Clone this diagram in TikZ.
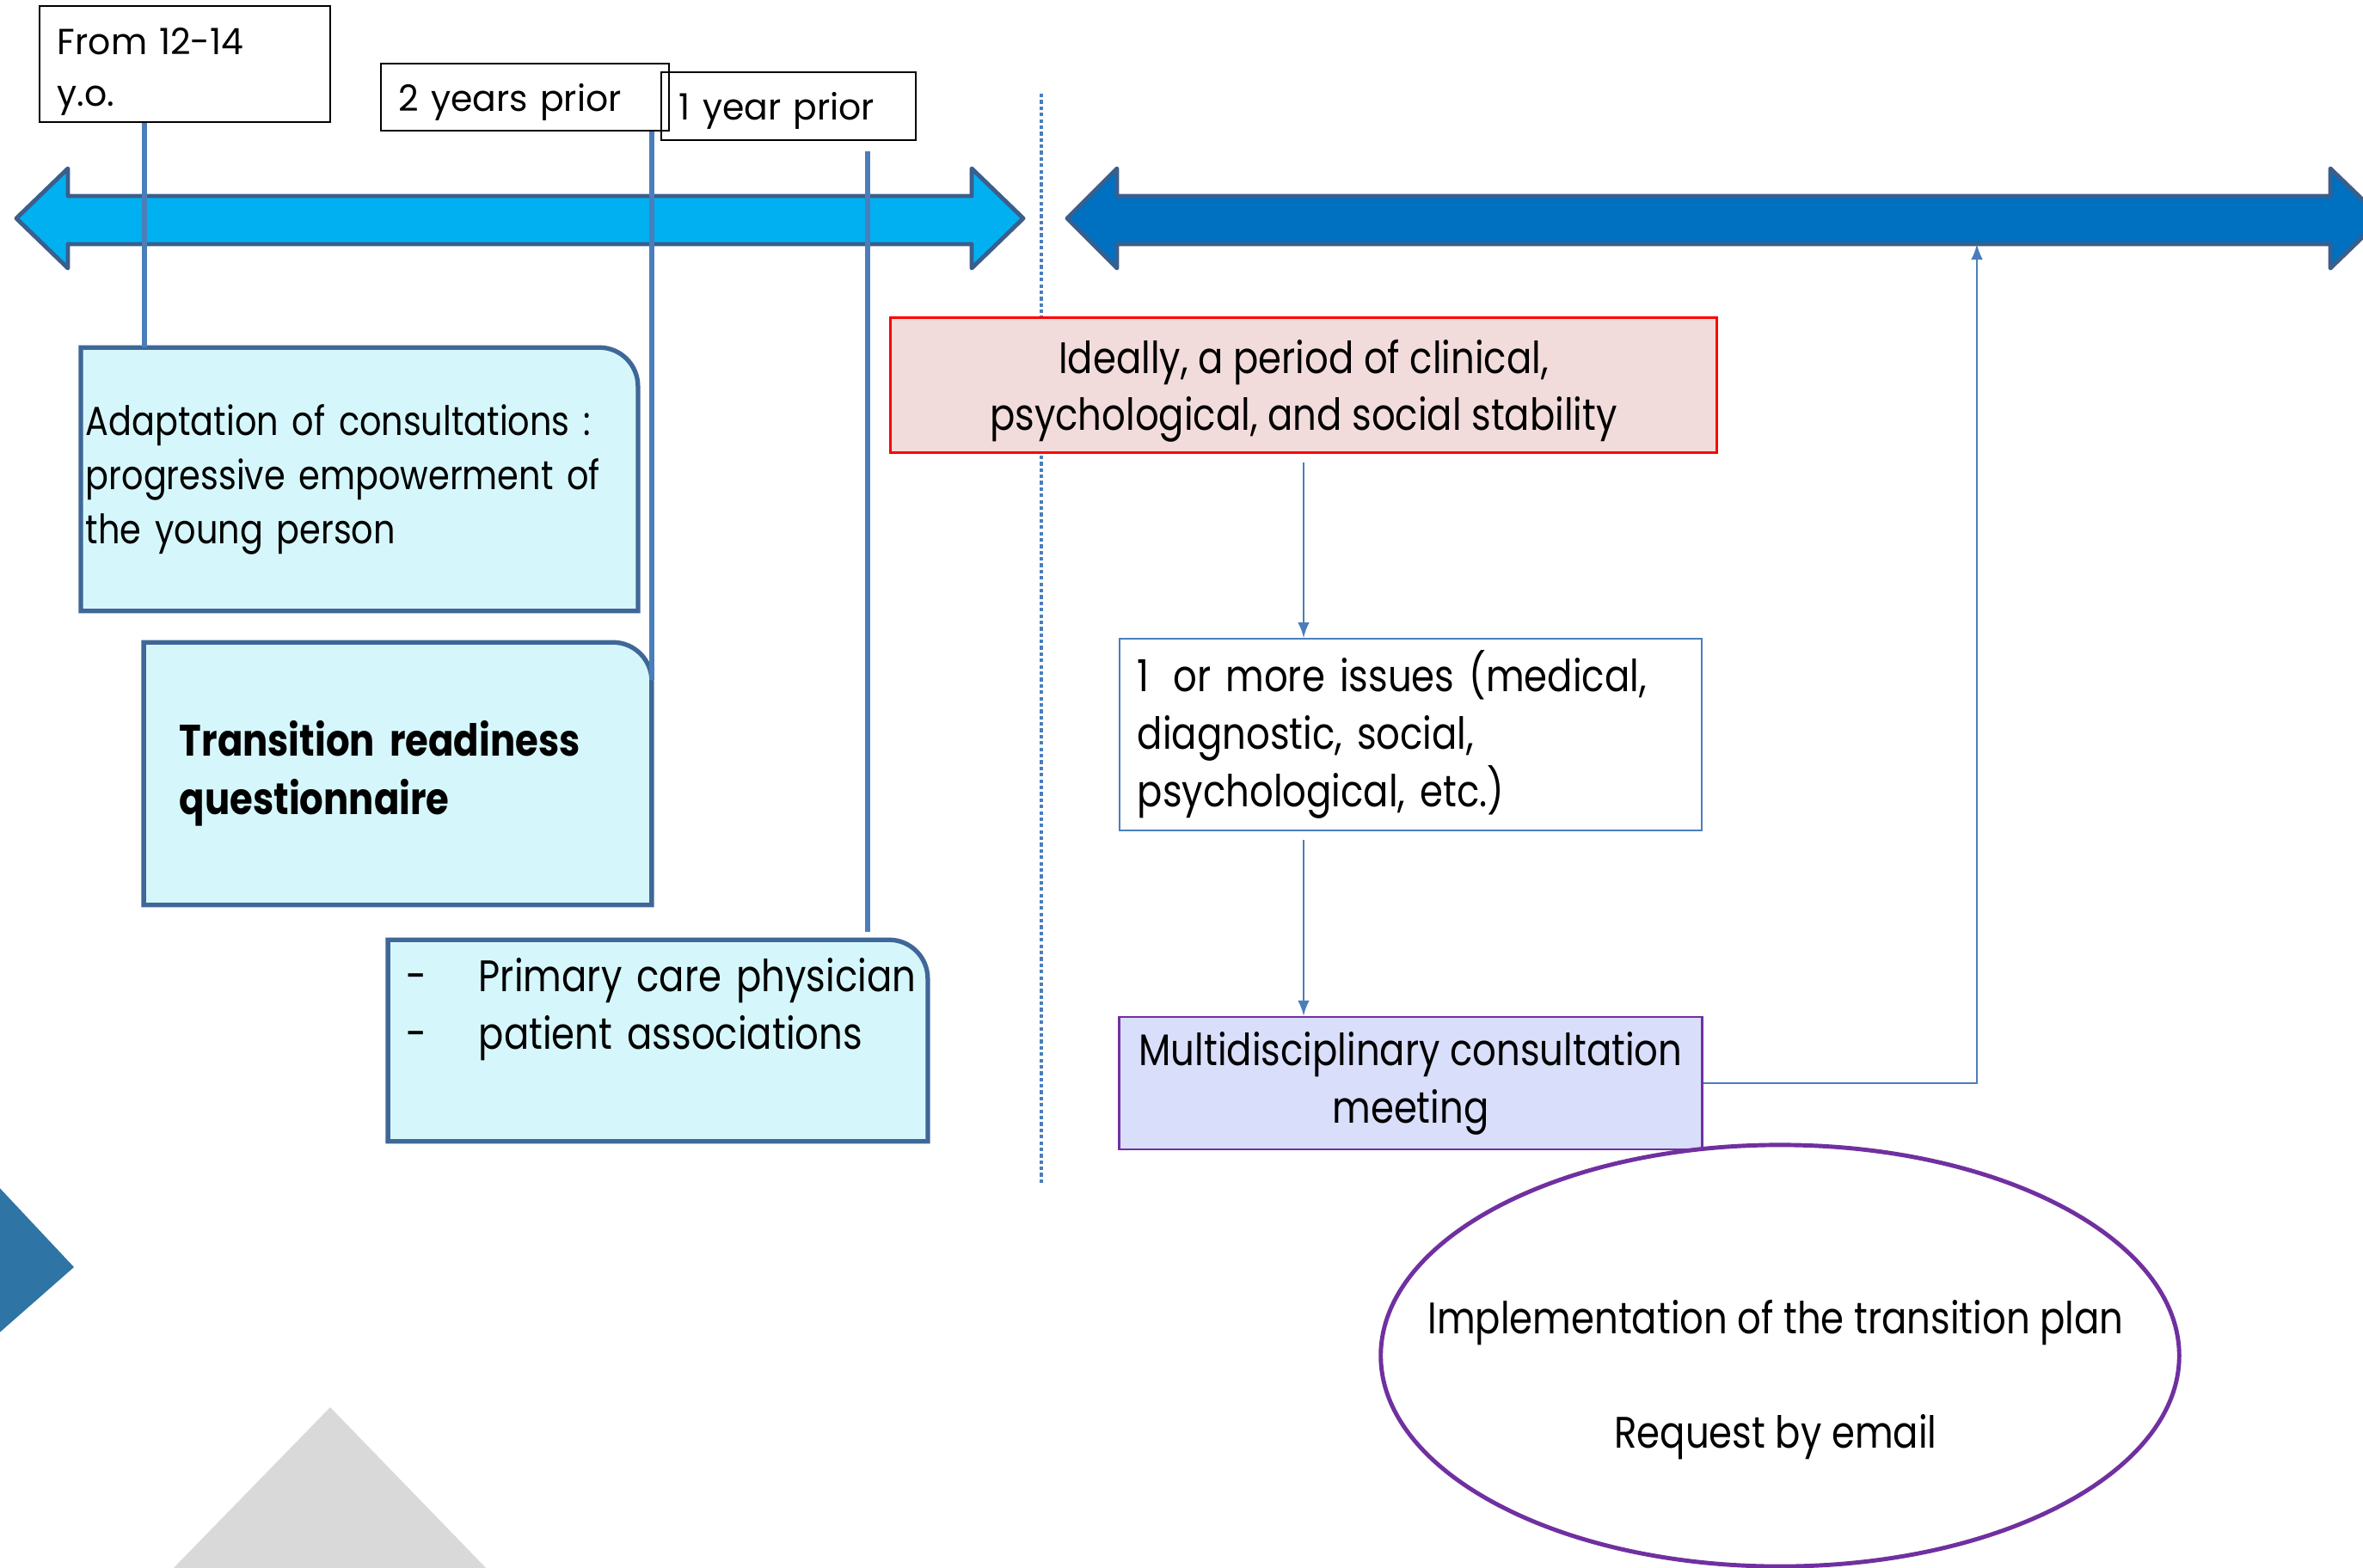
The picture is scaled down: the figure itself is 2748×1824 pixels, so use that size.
\documentclass[tikz,border=0pt]{standalone}
\usepackage{fontspec}
\setmainfont{Poppins}[FakeStretch=0.845]
\newfontfamily\labelfont{Poppins}[FakeStretch=0.97]
\usepackage{xcolor}
\usepackage{tikz}
\usetikzlibrary{shapes.geometric, arrows, backgrounds}

\definecolor{lightarrow}{HTML}{00B0F0}
\definecolor{darkarrow}{HTML}{0070C0}
\definecolor{arrowedge}{HTML}{3B5E8C}
\definecolor{markline}{HTML}{4A7EBB}
\definecolor{cyanfill}{HTML}{D5F7FB}
\definecolor{cyanedge}{HTML}{3F6797}
\definecolor{pinkfill}{HTML}{F2DCDB}
\definecolor{lavfill}{HTML}{D9DEFA}
\definecolor{purpleedge}{HTML}{7030A0}
\definecolor{decoblue}{HTML}{2E74A4}
\definecolor{decogray}{HTML}{D9D9D9}

% boite a coin arrondi en haut a droite
\newcommand{\tabbox}[1]{%
  \filldraw[tabshape] (#1.south west) -- (#1.north west)
    -- ([xshift=-0.45cm]#1.north east) arc[start angle=90, end angle=0, radius=0.45cm]
    -- (#1.south east) -- cycle;}

\begin{document}
\begin{tikzpicture}[x=0.01cm, y=-0.01cm,
    mainfont/.style={font=\fontsize{14.6}{19}\selectfont},
    labelbox/.style={draw=black, line width=0.6pt, inner xsep=0.21cm, inner ysep=0pt, align=left, font=\labelfont\fontsize{12}{17}\selectfont},
    tabtext/.style={inner xsep=0.21cm, align=left, mainfont},
    tabshape/.style={fill=cyanfill, draw=cyanedge, line width=1.5pt},
    marker/.style={markline, line width=1.7pt},
    conn/.style={->, >=latex, markline, line width=0.75pt},
    bigarrow/.style={draw=arrowedge, line width=1.4pt, line join=round}]
    \useasboundingbox (0,0) rectangle (2748,1824);
    \clip (0,0) rectangle (2748,1824);

    % Decor
    \fill[decoblue] (-5,1377) -- (86,1474) -- (-5,1554) -- cycle;
    \fill[decogray] (384,1637) -- (196,1830) -- (571,1830) -- cycle;

    % Fleches du temps
    \filldraw[bigarrow, fill=lightarrow] (19,254) -- (79,196) -- (79,228) -- (1130,228) -- (1130,196)
        -- (1190,254) -- (1130,312) -- (1130,284) -- (79,284) -- (79,312) -- cycle;
    \filldraw[bigarrow, fill=darkarrow] (1241,254) -- (1299,196) -- (1299,228) -- (2710,228) -- (2710,196)
        -- (2770,254) -- (2710,312) -- (2710,284) -- (1299,284) -- (1299,312) -- cycle;
    \coordinate (darkbottom) at (2299,284);

    % Separation
    \coordinate (septop) at (1211,109);
    \coordinate (sepbottom) at (1211,1376);
    \draw[markline, line width=0.9pt, dash pattern=on 1.2pt off 0.9pt] (septop) -- (sepbottom);

    % Etiquettes
    \node[labelbox, text width=2.96cm, minimum height=1.35cm] (from) at (215,74.5) {\rule{0pt}{14pt}From 12-14\\y.o.};
    \node[labelbox, text width=2.93cm, minimum height=0.78cm] (years2) at (610.5,113) {\rule{0pt}{12.4pt}2 years prior};
    \node[labelbox, text width=2.54cm, minimum height=0.79cm] (year1) at (917,123.5) {\rule{0pt}{12.4pt}1 year prior};

    % Etapes avant
    \node[tabtext, inner xsep=0.05cm, text width=6.36cm, minimum height=3.05cm,
        font=\fontsize{13.4}{17.9}\selectfont] (adapt) at (418,557.5)
        {\mbox{Adaptation of consultations :}\\\mbox{progressive empowerment of}\\\mbox{the young person}};
    \node[tabtext, inner xsep=0.41cm, text width=5.07cm, minimum height=3.04cm,
        font=\fontsize{14.6}{19.3}\selectfont\bfseries] (quest) at (462.5,900)
        {Transition readiness\\questionnaire};
    \node[tabtext, text width=5.84cm, minimum height=2.33cm] (primary) at (765,1210.5)
        {\mbox{\makebox[0.84cm][l]{-}Primary care physician}\\\mbox{\makebox[0.84cm][l]{-}patient associations}\\[5.6pt]\mbox{}};
    \begin{scope}[on background layer]
        \fill[white] (0,0) rectangle (2748,1824);
        \tabbox{adapt}
        \tabbox{quest}
        \tabbox{primary}
    \end{scope}

    % Reperes
    \draw[marker] ([xshift=-0.47cm]from.south) -- ([xshift=-0.47cm]from.south |- adapt.north);
    \draw[marker] (years2.south -| quest.east) -- ([yshift=-0.44cm]quest.north east);
    \draw[marker] ([xshift=-0.7cm, yshift=-0.12cm]primary.north east |- year1.south) -- ([xshift=-0.7cm, yshift=0.09cm]primary.north east);

    % Etapes apres
    \node[draw=red, fill=pinkfill, line width=0.8pt, minimum width=9.6cm, minimum height=1.56cm,
        align=center, mainfont] (ideal) at (1516,448)
        {\rule{0pt}{15pt}Ideally, a period of clinical,\\psychological, and social stability};
    \node[draw=markline, fill=white, line width=0.6pt, text width=6.35cm, inner xsep=0.21cm,
        minimum height=2.23cm, align=left, mainfont] (issues) at (1640.5,854.5)
        {1\hspace{3pt} or more issues (medical,\\diagnostic, social,\\psychological, etc.)};
    \node[draw=purpleedge, fill=lavfill, line width=0.8pt, minimum width=6.77cm, minimum height=1.54cm,
        align=center, mainfont] (multi) at (1640.5,1260)
        {Multidisciplinary consultation\\meeting};
    \node[ellipse, draw=purpleedge, line width=1.4pt, minimum width=9.28cm, minimum height=4.9cm,
        inner sep=0pt] (plan) at (2070,1577) {};
    \node[align=center, mainfont] (plantext) at (2065,1605)
        {Implementation of the transition plan\\[19pt]Request by email};

    % Liens
    \draw[conn, shorten <=0.1cm] (ideal.south) -- (ideal.south |- issues.north);
    \draw[conn, shorten <=0.1cm] (ideal.south |- issues.south) -- (ideal.south |- multi.north);
    \draw[conn] (multi.east) -| (darkbottom);
\end{tikzpicture}
\end{document}
